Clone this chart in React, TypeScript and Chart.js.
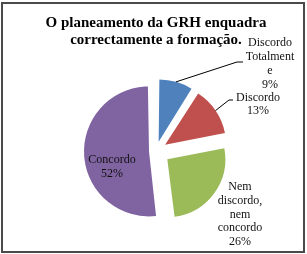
import React, { useEffect, useRef } from "react";
import { Chart, registerables } from "chart.js";

Chart.register(...registerables);

const categories = ["Discordo Totalmente", "Discordo", "Nem discordo, nem concordo", "Concordo"];
const values = [9, 13, 26, 52];
const labelLines = [["Discordo", "Totalment", "e"], ["Discordo"], ["Nem", "discordo,", "nem", "concordo"], ["Concordo"]];
const titleLines = ["O planeamento da GRH enquadra", "correctamente a formação."];
const colors = ["#4F81BD", "#C0504D", "#9BBB59", "#8064A2"];

const EXPLODE = 14;
const FONT = "'Liberation Serif', 'Times New Roman', serif";

// label placement relative to pie centre (dx, dy), line height, leader elbow/end
const labelLayout = [
  { dx: 114, dy: -87, lh: 14, leader: [[81, -89], [87, -89]] },
  { dx: 102, dy: -46.5, lh: 13.5, leader: [[73, -51], [77, -51]] },
  { dx: 84, dy: 63.5, lh: 13.75, leader: null },
  { dx: -44, dy: 16, lh: 14, leader: null },
];

const sliceOffset = (ctx: any) => {
  const data = ctx.dataset.data as number[];
  const total = data.reduce((a: number, b: number) => a + b, 0);
  const circ = (data[ctx.dataIndex] / total) * Math.PI * 2;
  const fix = 1 - Math.sin(Math.min(Math.PI, circ));
  return (4 * EXPLODE) / (1 + fix);
};

const labelPlugin = {
  id: "sliceLabels",
  afterDatasetsDraw(chart: any) {
    const { ctx } = chart;
    const meta = chart.getDatasetMeta(0);
    ctx.save();
    ctx.font = `12px ${FONT}`;
    ctx.fillStyle = "#111";
    ctx.textAlign = "center";
    ctx.textBaseline = "middle";
    ctx.strokeStyle = "#000";
    ctx.lineWidth = 1;
    meta.data.forEach((arc: any, i: number) => {
      const cx = arc.x;
      const cy = arc.y;
      const mid = (arc.startAngle + arc.endAngle) / 2;
      const sx = cx + Math.cos(mid) * EXPLODE;
      const sy = cy + Math.sin(mid) * EXPLODE;
      const L = labelLayout[i];
      if (L.leader) {
        const px = sx + Math.cos(mid) * arc.outerRadius;
        const py = sy + Math.sin(mid) * arc.outerRadius;
        ctx.beginPath();
        ctx.moveTo(px, py);
        ctx.lineTo(cx + L.leader[0][0], cy + L.leader[0][1]);
        ctx.lineTo(cx + L.leader[1][0], cy + L.leader[1][1]);
        ctx.stroke();
      }
      const lines = [...labelLines[i], `${values[i]}%`];
      const n = lines.length;
      lines.forEach((t, k) => {
        const y = cy + L.dy + (k - (n - 1) / 2) * L.lh;
        ctx.fillText(t, cx + L.dx, y);
      });
    });
    ctx.restore();
  },
};

export default function App() {
  const ref = useRef<HTMLCanvasElement>(null);
  useEffect(() => {
    if (!ref.current) return;
    const chart = new Chart(ref.current, {
      type: "pie",
      data: {
        labels: categories,
        datasets: [
          {
            data: values,
            backgroundColor: colors,
            borderWidth: 0,
            offset: sliceOffset as any,
            radius: 58,
          } as any,
        ],
      },
      options: {
        responsive: false,
        animation: false,
        layout: { padding: { left: 5, right: 0, top: 0, bottom: 32 } },
        plugins: {
          legend: { display: false },
          tooltip: { enabled: false },
          title: {
            display: true,
            text: titleLines,
            color: "#000",
            font: { family: FONT, size: 15, weight: "bold", lineHeight: 17 / 15 },
            padding: { top: 14.5, bottom: 31.5 },
          },
        },
      },
      plugins: [labelPlugin],
    });
    return () => chart.destroy();
  }, []);
  return (
    <div style={{ position: "fixed", left: 0, top: 0, width: 307, height: 254, background: "#fff" }}>
      <canvas ref={ref} width={307} height={254} style={{ position: "absolute", left: 0, top: 0 }} />
      <div
        style={{
          position: "absolute",
          left: 1,
          top: 2,
          width: 304,
          height: 251,
          boxSizing: "border-box",
          border: "2px solid #4a4a4a",
          pointerEvents: "none",
        }}
      />
    </div>
  );
}
